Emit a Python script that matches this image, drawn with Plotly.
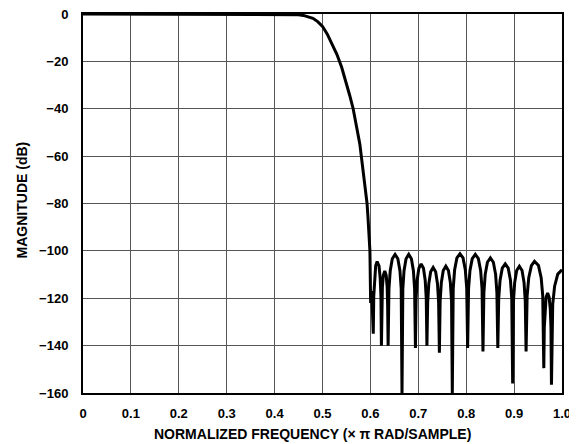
import plotly.graph_objects as go

# Magnitude response (normalized frequency, dB)
freq = [
    0.0, 0.1, 0.2, 0.3, 0.4, 0.43, 0.44, 0.45, 0.46, 0.47, 0.48, 0.49, 0.50,
    0.51, 0.52, 0.53, 0.54, 0.55, 0.557, 0.564, 0.569, 0.574, 0.578, 0.581,
    0.585, 0.588, 0.591, 0.593, 0.595, 0.597, 0.5985, 0.599,
    0.6005, 0.602, 0.604, 0.606,
    0.607, 0.6086, 0.611, 0.614, 0.618, 0.6204, 0.622, 0.623,
    0.624, 0.625, 0.627, 0.630, 0.633, 0.635, 0.636, 0.637,
    0.6387, 0.6414, 0.6457, 0.6515, 0.6573, 0.6617, 0.6643, 0.666,
    0.6677, 0.6702, 0.6744, 0.680, 0.6856, 0.6898, 0.6923, 0.694,
    0.6954, 0.6976, 0.7012, 0.706, 0.7108, 0.7144, 0.7166, 0.718,
    0.7196, 0.7219, 0.7258, 0.731, 0.7362, 0.7401, 0.7424, 0.744,
    0.7456, 0.7481, 0.7521, 0.7575, 0.7629, 0.7669, 0.7694, 0.771,
    0.7729, 0.7758, 0.7806, 0.787, 0.7934, 0.7982, 0.8011, 0.803,
    0.8049, 0.8078, 0.8126, 0.819, 0.8254, 0.8302, 0.8331, 0.835,
    0.8369, 0.8397, 0.8443, 0.8505, 0.8567, 0.8614, 0.8641, 0.866,
    0.8679, 0.8707, 0.8753, 0.8815, 0.8877, 0.8924, 0.8951, 0.897,
    0.8987, 0.9012, 0.9054, 0.911, 0.9166, 0.9208, 0.9233, 0.925,
    0.9272, 0.9306, 0.9361, 0.9425, 0.9509, 0.9565, 0.9598, 0.962,
    0.963, 0.9644, 0.9668, 0.970, 0.9732, 0.9756, 0.977, 0.978,
    0.9806, 0.9846, 0.9912, 1.0,
]
mag_db = [
    0, 0, 0, 0, 0, 0, -0.1, -0.3, -0.6, -1.1, -1.8, -3.2, -5.2,
    -8.5, -12.5, -17, -22.5, -29, -34.5, -40, -45, -50, -55, -60,
    -66, -71, -76, -80, -86, -92, -97, -100,
    -122, -117, -124, -135,
    -119.1, -111.4, -106.3, -104.5, -106.3, -111.4, -119.1, -140,
    -123.1, -115.4, -110.3, -108.5, -110.3, -115.4, -123.1, -140,
    -116.1, -108.4, -103.3, -101.5, -103.3, -108.4, -116.1, -160,
    -116.1, -108.4, -103.3, -101.5, -103.3, -108.4, -116.1, -141,
    -120.1, -112.4, -107.3, -105.5, -107.3, -112.4, -120.1, -140,
    -121.6, -113.9, -108.8, -107, -108.8, -113.9, -121.6, -143,
    -121.1, -113.4, -108.3, -106.5, -108.3, -113.4, -121.1, -160,
    -115.8, -108.1, -103.0, -101.2, -103.0, -108.1, -115.8, -141,
    -116.1, -108.4, -103.3, -101.5, -103.3, -108.4, -116.1, -142.5,
    -117.6, -109.9, -104.8, -103, -104.8, -109.9, -117.6, -141,
    -120.1, -112.4, -107.3, -105.5, -107.3, -112.4, -120.1, -156,
    -121.1, -113.4, -108.3, -106.5, -108.3, -113.4, -121.1, -142.5,
    -119.0, -111.3, -106.2, -104.4, -106.2, -111.3, -119.0, -149.5,
    -132.4, -124.7, -119.6, -117.8, -119.6, -124.7, -132.4, -156.5,
    -122.6, -114.9, -109.8, -108,
]

x_ticks = [0, 0.1, 0.2, 0.3, 0.4, 0.5, 0.6, 0.7, 0.8, 0.9, 1.0]
x_labels = ["0", "0.1", "0.2", "0.3", "0.4", "0.5", "0.6", "0.7", "0.8", "0.9", "1.0"]
y_ticks = [0, -20, -40, -60, -80, -100, -120, -140, -160]
y_labels = ["0", "\u221220", "\u221240", "\u221260", "\u221280", "\u2212100",
            "\u2212120", "\u2212140", "\u2212160"]

FONT = "Liberation Sans, Arial, sans-serif"

fig = go.Figure()
fig.add_trace(go.Scatter(
    x=freq, y=mag_db, mode="lines",
    line=dict(color="black", width=3),
    showlegend=False, hoverinfo="skip",
))

axis_common = dict(
    showgrid=True, gridcolor="#555555", gridwidth=1,
    showline=True, linecolor="black", linewidth=2, mirror=True,
    zeroline=False, ticks="", automargin=False, ticklabeloverflow="allow",
    tickfont=dict(family=FONT, size=13, color="black", weight="bold"),
)
fig.update_xaxes(range=[0, 1], tickvals=x_ticks, ticktext=x_labels,
                 ticklabelstandoff=7, **axis_common)
fig.update_yaxes(range=[-160, 0], tickvals=y_ticks, ticktext=y_labels,
                 ticklabelstandoff=10, **axis_common)

fig.add_annotation(
    text="NORMALIZED FREQUENCY (\u00d7 \u03c0 RAD/SAMPLE)",
    xref="paper", yref="paper", x=0.48, y=-0.108, yanchor="middle",
    showarrow=False, font=dict(family=FONT, size=14, color="black", weight="bold"),
)
fig.add_annotation(
    text="MAGNITUDE (dB)", textangle=-90,
    xref="paper", yref="paper", x=-0.128, y=0.51, xanchor="center",
    showarrow=False, font=dict(family=FONT, size=14, color="black", weight="bold"),
)

# page body adds an 8px offset, so the figure is sized to the remaining window
fig.update_layout(
    width=569, height=436,
    margin=dict(l=75, r=15, t=6, b=51),
    plot_bgcolor="white", paper_bgcolor="white",
)

fig.write_html("out.html")
